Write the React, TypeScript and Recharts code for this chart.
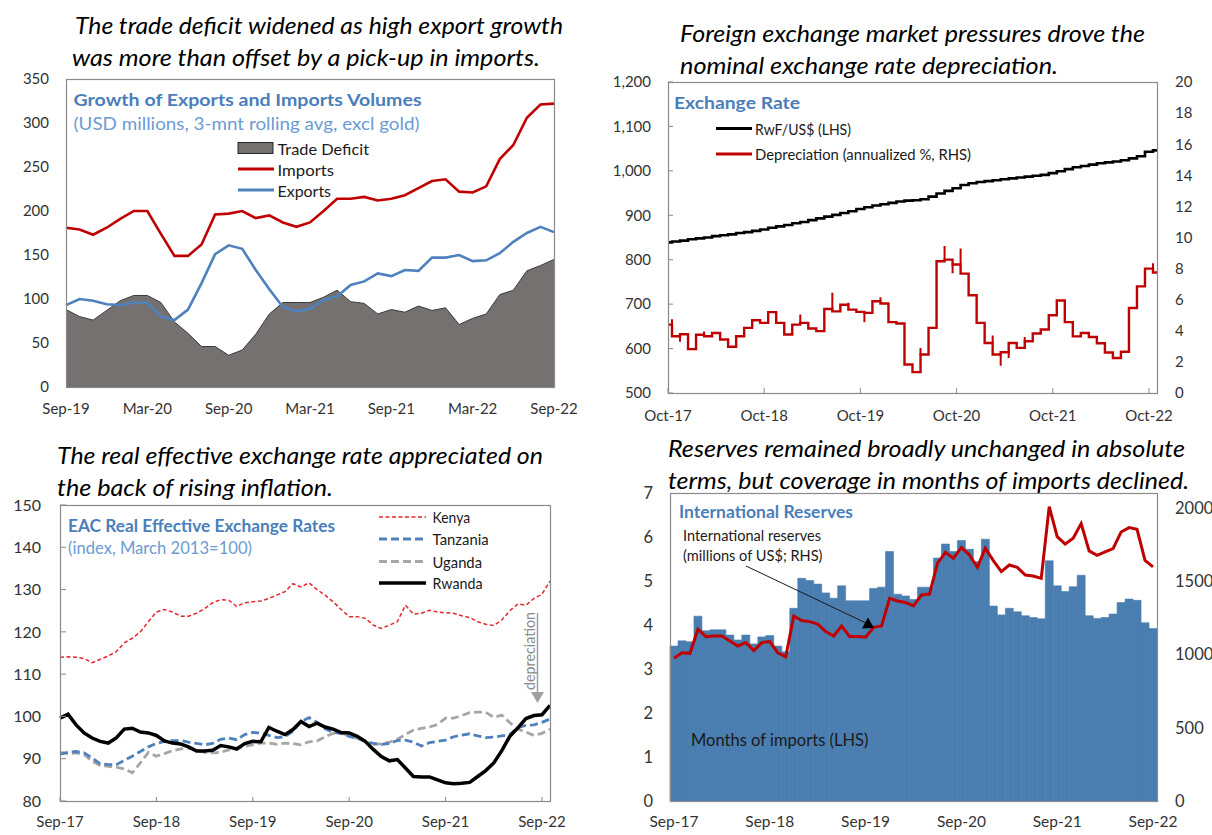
import { ComposedChart, LineChart, Line, Area, Bar, XAxis, YAxis } from 'recharts';

// ---------- top left: trade (monthly, Sep-19 .. Sep-22)
const tradeTicks = ['Sep-19', 'Mar-20', 'Sep-20', 'Mar-21', 'Sep-21', 'Mar-22', 'Sep-22'];
const imports = [181, 179, 173, 181, 191, 200, 200, 174, 149, 149, 162, 196, 197, 200, 192, 195, 187, 182, 187, 200, 214, 214, 216, 212, 214, 218, 226, 234, 236, 222, 221, 228, 259, 275, 306, 321, 322];
const exportsVol = [93, 100, 98, 94, 93, 96, 96, 80, 76, 88, 118, 151, 161, 157, 133, 111, 91, 86, 89, 99, 103, 116, 120, 129, 126, 133, 132, 147, 147, 150, 143, 144, 152, 165, 175, 182, 176];
const tradeDeficit = [88, 80, 76, 87, 98, 104, 104, 96, 74, 61, 46, 46, 36, 42, 60, 83, 96, 96, 96, 102, 110, 97, 95, 83, 88, 85, 92, 87, 90, 71, 78, 83, 105, 110, 132, 138, 145];

// ---------- top right: exchange rate (monthly, Oct-17 .. Nov-22)
const fxTicks = ['Oct-17', 'Oct-18', 'Oct-19', 'Oct-20', 'Oct-21', 'Oct-22'];
const rwfUsd = [839, 841, 843, 846, 848, 850, 853, 855, 857, 860, 862, 865, 868, 872, 875, 878, 882, 885, 889, 893, 897, 901, 905, 909, 914, 918, 922, 925, 928, 931, 933, 934, 936, 942, 949, 955, 961, 968, 972, 975, 977, 979, 981, 983, 985, 987, 989, 991, 995, 999, 1004, 1008, 1011, 1014, 1017, 1019, 1021, 1024, 1028, 1033, 1043, 1046];
const depreciation = [4.4, 3.65, 3.78, 2.82, 3.75, 3.65, 3.86, 3.44, 2.97, 3.65, 4.19, 4.68, 4.51, 5.2, 4.51, 3.76, 4.4, 4.51, 4.15, 3.98, 5.4, 5.25, 5.68, 5.36, 5.22, 5.15, 5.9, 5.76, 4.56, 4.47, 1.83, 1.34, 2.48, 4.19, 8.47, 8.58, 8.26, 7.68, 6.29, 4.51, 3.22, 2.48, 2.62, 3.22, 2.9, 3.33, 3.83, 4.08, 5.0, 5.95, 4.56, 3.64, 3.86, 3.6, 3.2, 2.6, 2.25, 2.65, 5.47, 6.86, 8.0, 7.75];
// short-lived moves between monthly steps: [position, tip]
const depSpikes = [[0.5, 4.75], [1.5, 3.3], [4.5, 3.95], [16.5, 5.05], [20.5, 6.45], [22.5, 5.8], [24.5, 4.55], [26.5, 6.15], [31.5, 2.9], [34.5, 9.45], [35.5, 7.7], [36.5, 9.3], [40.5, 3.7], [41.5, 1.75], [42.5, 2.25], [44.5, 3.6], [60.5, 8.35]];

// ---------- bottom left: REER (monthly, Sep-17 .. Oct-22)
const reerTicks = ['Sep-17', 'Sep-18', 'Sep-19', 'Sep-20', 'Sep-21', 'Sep-22'];
const kenya = [114.0, 114.1, 114.0, 113.7, 112.7, 113.5, 114.3, 115.3, 117.4, 118.5, 120.0, 122.4, 124.7, 125.3, 124.7, 123.7, 123.7, 124.4, 125.5, 126.9, 127.6, 127.5, 126.0, 126.9, 127.1, 127.3, 127.9, 128.7, 129.5, 131.4, 130.6, 131.6, 130.0, 128.7, 127.1, 125.3, 123.6, 123.6, 123.2, 121.6, 120.8, 121.6, 122.4, 126.3, 124.2, 124.4, 125.1, 124.7, 124.5, 124.4, 123.8, 123.4, 122.4, 121.8, 121.5, 122.8, 125.0, 126.6, 126.3, 127.9, 128.9, 132.0];
const tanzania = [91.1, 91.5, 91.7, 91.4, 90.2, 88.8, 88.6, 88.6, 89.6, 90.6, 91.7, 92.8, 93.6, 94.1, 94.3, 94.3, 93.9, 93.6, 93.3, 93.6, 94.6, 94.9, 94.5, 95.7, 96.2, 96.1, 95.5, 95.0, 95.2, 96.5, 98.8, 99.7, 98.6, 97.1, 96.2, 96.0, 95.3, 94.8, 94.2, 93.6, 93.4, 93.6, 94.3, 94.4, 93.9, 93.0, 93.8, 94.1, 94.4, 95.2, 95.6, 95.9, 95.4, 95.0, 95.1, 95.4, 95.7, 97.4, 97.9, 98.0, 98.6, 99.4];
const uganda = [91.5, 91.2, 91.4, 91.0, 89.4, 88.4, 88.2, 88.0, 87.6, 86.7, 89.0, 91.5, 90.6, 91.2, 91.9, 92.3, 92.5, 92.1, 91.5, 91.4, 91.5, 92.1, 92.5, 92.9, 93.3, 93.7, 93.7, 93.4, 93.7, 93.6, 93.3, 94.0, 94.2, 95.2, 96.0, 96.0, 95.6, 94.8, 94.0, 93.4, 93.5, 93.9, 94.6, 95.7, 96.8, 97.2, 97.5, 98.1, 99.6, 99.6, 100.2, 100.9, 101.0, 101.0, 99.8, 100.3, 98.5, 97.0, 96.3, 95.5, 96.0, 97.0];
const rwanda = [99.6, 100.5, 98.0, 96.1, 94.9, 94.1, 93.7, 94.9, 97.0, 97.2, 96.3, 96.1, 95.5, 94.2, 93.7, 93.5, 92.8, 91.8, 91.8, 92.0, 93.1, 92.8, 92.3, 93.6, 94.1, 94.0, 97.4, 96.5, 95.7, 96.9, 98.8, 97.6, 98.4, 97.5, 97.0, 96.2, 96.1, 95.3, 94.1, 92.2, 90.5, 89.5, 89.8, 87.8, 85.8, 85.7, 85.7, 85.0, 84.3, 84.1, 84.2, 84.4, 85.8, 87.2, 89.0, 91.9, 95.3, 97.3, 99.5, 100.2, 100.4, 102.6];

// ---------- bottom right: reserves (monthly, Sep-17 .. Sep-22)
const monthsOfImports = [3.52, 3.64, 3.62, 4.2, 3.87, 3.89, 3.89, 3.77, 3.66, 3.77, 3.57, 3.73, 3.76, 3.52, 3.39, 4.38, 5.06, 5.01, 4.93, 4.73, 4.61, 4.89, 4.55, 4.55, 4.55, 4.83, 4.86, 5.67, 4.7, 4.66, 4.58, 4.86, 4.86, 5.52, 5.84, 5.67, 5.92, 5.72, 5.44, 5.95, 4.43, 4.23, 4.38, 4.3, 4.21, 4.17, 4.14, 5.46, 4.89, 4.76, 4.87, 5.13, 4.21, 4.15, 4.17, 4.25, 4.51, 4.59, 4.56, 4.05, 3.92];
const reserves = [973, 1011, 1007, 1171, 1121, 1125, 1125, 1091, 1057, 1080, 1025, 1080, 1087, 1011, 984, 1261, 1230, 1223, 1207, 1155, 1125, 1193, 1121, 1121, 1117, 1184, 1193, 1382, 1364, 1354, 1330, 1405, 1411, 1620, 1695, 1654, 1729, 1677, 1593, 1723, 1639, 1564, 1609, 1593, 1541, 1534, 1518, 2007, 1802, 1752, 1791, 1891, 1705, 1675, 1698, 1721, 1834, 1864, 1852, 1641, 1596];
const MON = ['Jan', 'Feb', 'Mar', 'Apr', 'May', 'Jun', 'Jul', 'Aug', 'Sep', 'Oct', 'Nov', 'Dec'];
const reserveMonths = monthsOfImports.map((_, i) => `${MON[(8 + i) % 12]}-${17 + Math.floor((8 + i) / 12)}`);

const tradeData = imports.map((v, i) => ({ i, imports: v, exports: exportsVol[i], deficit: tradeDeficit[i] }));
const rateData = rwfUsd.map((v, i) => ({ x: i, v }));
const depData = depreciation.map((v, i) => ({ x: i, v }));
const spikeData = depSpikes.flatMap(([x, tip]) => {
  const a = depreciation[Math.floor(x)];
  const b = depreciation[Math.ceil(x)];
  const base = tip > Math.max(a, b) ? Math.max(a, b) : Math.min(a, b);
  return [{ x, v: base }, { x, v: tip }, { x, v: null }];
});
const reerData = kenya.map((v, i) => ({ x: i, kenya: v, tanzania: tanzania[i], uganda: uganda[i], rwanda: rwanda[i] }));
const reserveData = reserveMonths.map((m, i) => ({ m, months: monthsOfImports[i], reserves: reserves[i] }));

const RED = '#C00000';
const BLUE = '#4F81BD';
const TITLE_BLUE = '#4A7EBB';
const SUB_BLUE = '#6C9BD2';
const FRAME = '#8a8a8a';
const tick = { fontSize: 15, fill: '#333' };

function T({ x, y, w, size = 15, bold = false, italic = false, color = '#1a1a1a', children }: any) {
  return (
    <text x={x} y={y} textLength={w} lengthAdjust="spacingAndGlyphs" dominantBaseline="central"
      fontSize={size} fontWeight={bold ? 700 : 400} fontStyle={italic ? 'italic' : 'normal'} fill={color}>
      {children}
    </text>
  );
}

function Overlay() {
  return (
    <svg width={1212} height={835} style={{ position: 'absolute', left: 0, top: 0, pointerEvents: 'none' }}>
      {/* plot frames */}
      <rect x={66.5} y={79.5} width={488} height={308} fill="none" stroke={FRAME} strokeWidth={1.2} />
      <rect x={668.5} y={82.5} width={489} height={311} fill="none" stroke={FRAME} strokeWidth={1.2} />
      <rect x={60.5} y={505.5} width={490} height={296} fill="none" stroke={FRAME} strokeWidth={1.2} />
      <rect x={670.5} y={493.5} width={487} height={308} fill="none" stroke={FRAME} strokeWidth={1.2} />

      {/* headlines */}
      <T x={75} y={25} w={488} size={22.5} italic color="#000">The trade deficit widened as high export growth</T>
      <T x={72} y={57} w={468} size={22.5} italic color="#000">was more than offset by a pick-up in imports.</T>
      <T x={680} y={33} w={465} size={22.5} italic color="#000">Foreign exchange market pressures drove the</T>
      <T x={680} y={65} w={378} size={22.5} italic color="#000">nominal exchange rate depreciation.</T>
      <T x={57} y={455} w={486} size={22.5} italic color="#000">The real effective exchange rate appreciated on</T>
      <T x={57} y={487} w={276} size={22.5} italic color="#000">the back of rising inflation.</T>
      <T x={668} y={448} w={517} size={22.5} italic color="#000">Reserves remained broadly unchanged in absolute</T>
      <T x={668} y={480} w={521} size={22.5} italic color="#000">terms, but coverage in months of imports declined.</T>

      {/* panel 1 */}
      <T x={73.5} y={99} w={348} size={17} bold color={TITLE_BLUE}>Growth of Exports and Imports Volumes</T>
      <T x={73.5} y={123} w={346} size={17} color={SUB_BLUE}>(USD millions, 3-mnt rolling avg, excl gold)</T>
      <rect x={238} y={142.5} width={35} height={11} fill="#767171" stroke="#262626" strokeWidth={1} />
      <line x1={238} x2={274} y1={169} y2={169} stroke={RED} strokeWidth={3} />
      <line x1={238} x2={274} y1={190} y2={190} stroke={BLUE} strokeWidth={3} />
      <T x={277.5} y={148} w={91.5} size={16}>Trade Deficit</T>
      <T x={277.5} y={169} w={56.5} size={16}>Imports</T>
      <T x={277.5} y={190} w={53.5} size={16}>Exports</T>

      {/* panel 2 */}
      <T x={674} y={102} w={126} size={17} bold color={TITLE_BLUE}>Exchange Rate</T>
      <line x1={716} x2={752} y1={128.5} y2={128.5} stroke="#000" strokeWidth={3} />
      <line x1={716} x2={752} y1={154} y2={154} stroke={RED} strokeWidth={3} />
      <T x={755} y={129} w={96} size={14.5}>RwF/US$ (LHS)</T>
      <T x={755} y={154} w={216} size={14.5}>Depreciation (annualized %, RHS)</T>

      {/* panel 3 */}
      <T x={68} y={526} w={267} size={16.5} bold color={TITLE_BLUE}>EAC Real Effective Exchange Rates</T>
      <T x={68} y={548} w={184} size={16.5} color={SUB_BLUE}>(index, March 2013=100)</T>
      <line x1={379} x2={426} y1={517} y2={517} stroke="#E3262F" strokeWidth={1.5} strokeDasharray="4 2.5" />
      <line x1={379} x2={426} y1={539} y2={539} stroke={BLUE} strokeWidth={2.8} strokeDasharray="8 4" />
      <line x1={379} x2={426} y1={561.5} y2={561.5} stroke="#A6A6A6" strokeWidth={2.8} strokeDasharray="8 4" />
      <line x1={379} x2={426} y1={583} y2={583} stroke="#000" strokeWidth={3.5} />
      <T x={432.6} y={517} w={37.5} size={15}>Kenya</T>
      <T x={432.6} y={539} w={56} size={15}>Tanzania</T>
      <T x={432.6} y={561.5} w={49.4} size={15}>Uganda</T>
      <T x={432.6} y={583} w={50} size={15}>Rwanda</T>
      <text x={529} y={651} transform="rotate(-90 529 651)" textAnchor="middle" dominantBaseline="central"
        textLength={78} lengthAdjust="spacingAndGlyphs" fontSize={14.5} fill="#8c8c8c">depreciation</text>
      <line x1={537.5} x2={537.5} y1={613} y2={693} stroke="#a0a0a0" strokeWidth={1.5} />
      <polygon points="531,692 544,692 537.5,703" fill="#a0a0a0" />

      {/* panel 4 */}
      <T x={679} y={512} w={174} size={16.5} bold color={TITLE_BLUE}>International Reserves</T>
      <T x={683} y={535} w={138} size={14.5}>International  reserves</T>
      <T x={683} y={555} w={139.5} size={14.5}>(millions of US$; RHS)</T>
      <T x={691} y={739} w={177.5} size={17.5}>Months of imports (LHS)</T>
      <line x1={746} y1={566} x2={866} y2={623} stroke="#1a1a1a" strokeWidth={1} />
      <polygon points="874,628 862,628.5 868,617.5" fill="#000" />
    </svg>
  );
}

export default function App() {
  return (
    <div style={{ position: 'absolute', left: 0, top: 0, width: 1212, height: 835, background: '#fff', fontFamily: 'Lato, "Open Sans", sans-serif' }}>
      <div style={{ position: 'absolute', left: 0, top: 60 }}>
        <ComposedChart width={600} height={370} data={tradeData} margin={{ top: 19, right: 46, bottom: 13, left: 16 }}>
          <XAxis dataKey="i" type="number" domain={[0, 36]} ticks={[0, 6, 12, 18, 24, 30, 36]} interval={0}
            tickFormatter={(v) => tradeTicks[v / 6]} axisLine={false} tickLine={false} tickMargin={10} height={30} tick={tick} />
          <YAxis domain={[0, 350]} ticks={[0, 50, 100, 150, 200, 250, 300, 350]} interval={0} width={50}
            axisLine={false} tickLine={false} tickMargin={11} tick={tick} />
          <Area dataKey="deficit" type="linear" fill="#767171" fillOpacity={1} stroke="#3a3a3a" strokeWidth={1} isAnimationActive={false} />
          <Line dataKey="imports" type="linear" stroke={RED} strokeWidth={2.6} dot={false} isAnimationActive={false} />
          <Line dataKey="exports" type="linear" stroke={BLUE} strokeWidth={2.6} dot={false} isAnimationActive={false} />
        </ComposedChart>
      </div>

      <div style={{ position: 'absolute', left: 600, top: 60 }}>
        <ComposedChart width={612} height={370} margin={{ top: 22, right: 10, bottom: 7, left: 8 }}>
          <XAxis dataKey="x" type="number" domain={[0, 61]} ticks={[0, 12, 24, 36, 48, 60]} interval={0}
            tickFormatter={(v) => fxTicks[v / 12]} axisLine={false} tickSize={-5} tickLine={{ stroke: FRAME }} tickMargin={22} height={30} tick={tick} />
          <YAxis yAxisId="left" domain={[500, 1200]} ticks={[500, 600, 700, 800, 900, 1000, 1100, 1200]} interval={0}
            tickFormatter={(v) => v.toLocaleString('en-US')} width={60} axisLine={false} tickSize={-5} tickLine={{ stroke: FRAME }} tickMargin={22} tick={tick} />
          <YAxis yAxisId="right" orientation="right" domain={[0, 20]} ticks={[0, 2, 4, 6, 8, 10, 12, 14, 16, 18, 20]} interval={0}
            width={45} axisLine={false} tickLine={false} tickMargin={12} tick={tick} />
          <Line data={rateData} dataKey="v" yAxisId="left" type="step" stroke="#000" strokeWidth={2.6} dot={false} isAnimationActive={false} />
          <Line data={depData} dataKey="v" yAxisId="right" type="step" stroke={RED} strokeWidth={2.4} dot={false} isAnimationActive={false} />
          <Line data={spikeData} dataKey="v" yAxisId="right" type="linear" stroke={RED} strokeWidth={2} dot={false} connectNulls={false} isAnimationActive={false} />
        </ComposedChart>
      </div>

      <div style={{ position: 'absolute', left: 0, top: 430 }}>
        <LineChart width={600} height={405} data={reerData} margin={{ top: 75, right: 50, bottom: 6, left: 12 }}>
          <XAxis dataKey="x" type="number" domain={[0, 61]} ticks={[0, 12, 24, 36, 48, 60]} interval={0}
            tickFormatter={(v) => reerTicks[v / 12]} axisLine={false} tickSize={-4} tickLine={{ stroke: FRAME }} tickMargin={19} height={28} tick={tick} />
          <YAxis domain={[80, 150]} ticks={[80, 90, 100, 110, 120, 130, 140, 150]} interval={0} width={48}
            axisLine={false} tickSize={-6} tickLine={{ stroke: FRAME }} tickMargin={25} tick={{ ...tick, fontSize: 16 }} />
          <Line dataKey="kenya" stroke="#E3262F" strokeWidth={1.5} strokeDasharray="4 2.5" dot={false} isAnimationActive={false} />
          <Line dataKey="uganda" stroke="#A6A6A6" strokeWidth={2.8} strokeDasharray="8 4" dot={false} isAnimationActive={false} />
          <Line dataKey="tanzania" stroke={BLUE} strokeWidth={2.8} strokeDasharray="8 4" dot={false} isAnimationActive={false} />
          <Line dataKey="rwanda" stroke="#000" strokeWidth={3.5} dot={false} isAnimationActive={false} />
        </LineChart>
      </div>

      <div style={{ position: 'absolute', left: 600, top: 430 }}>
        <ComposedChart width={612} height={405} data={reserveData} margin={{ top: 63, right: 10, bottom: 6, left: 10 }} barCategoryGap={0} barGap={0}>
          <XAxis dataKey="m" interval={11} axisLine={false} tickLine={false} tickMargin={9} height={28} tick={{ ...tick, fontSize: 15.5 }} />
          <YAxis yAxisId="left" domain={[0, 7]} ticks={[0, 1, 2, 3, 4, 5, 6, 7]} interval={0} width={60}
            axisLine={false} tickLine={false} tickMargin={11} tick={{ ...tick, fontSize: 16.5 }} />
          <YAxis yAxisId="right" orientation="right" domain={[0, 2100]} ticks={[0, 500, 1000, 1500, 2000]} interval={0} width={45}
            axisLine={false} tickLine={false} tickMargin={12} tick={{ ...tick, fontSize: 16.5 }} />
          <Bar yAxisId="left" dataKey="months" fill="#4A7DB0" stroke="#4A7DB0" strokeWidth={0.6} isAnimationActive={false} />
          <Line yAxisId="right" dataKey="reserves" type="linear" stroke={RED} strokeWidth={3} dot={false} isAnimationActive={false} />
        </ComposedChart>
      </div>

      <Overlay />
    </div>
  );
}
